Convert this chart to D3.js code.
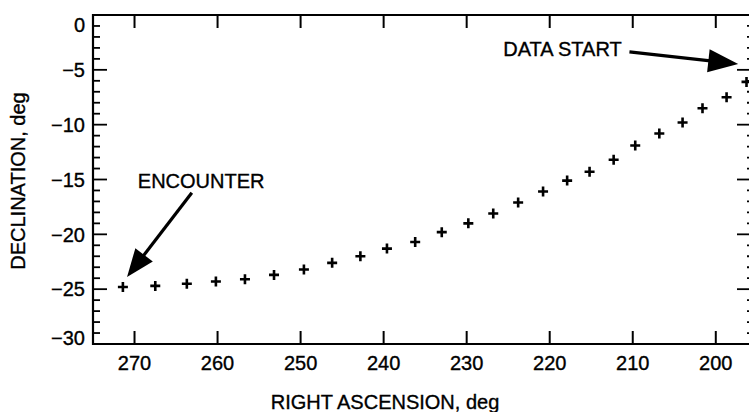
<!DOCTYPE html>
<html>
<head>
<meta charset="utf-8">
<script src="https://cdn.jsdelivr.net/npm/d3@7/dist/d3.min.js"></script>
<style>
  body { margin: 0; background: #fff; }
  svg { display: block; }
  text { font-family: "Liberation Sans", Arial, sans-serif; fill: #000; stroke: #000; stroke-width: 0.35px; }
</style>
</head>
<body>
<svg id="chart" width="749" height="412"></svg>
<script>
// right ascension (deg) and declination (deg) of each plotted point
var ra  = [271.4, 267.5, 263.7, 260.2, 256.7, 253.2, 249.6, 246.2, 242.8, 239.6,
           236.2, 233.0, 229.8, 226.8, 223.8, 220.8, 217.9, 215.2, 212.3, 209.7,
           206.8, 204.0, 201.6, 198.7, 196.3];
var dec = [-24.8, -24.7, -24.5, -24.3, -24.1, -23.7, -23.2, -22.6, -22.0, -21.3,
           -20.7, -19.8, -19.0, -18.1, -17.1, -16.1, -15.1, -14.3, -13.2, -11.9,
           -10.8, -9.8, -8.5, -7.5, -6.1];
var xTicks = [270, 260, 250, 240, 230, 220, 210, 200];
var yTicks = [0, -5, -10, -15, -20, -25, -30];

var svg = d3.select("#chart"),
    plotL = 93, plotT = 15, plotB = 344, plotR = 749;

var x = d3.scaleLinear().domain([275, 196]).range([plotL, plotR]);
var y = d3.scaleLinear().domain([-30, 0]).range([plotB, plotT]);

var g = svg.append("g");

// frame
g.append("path")
    .attr("d", "M" + (plotR + 3) + "," + plotT + "H" + plotL + "V" + plotB + "H" + (plotR + 3) + "V" + plotT)
    .attr("fill", "none").attr("stroke", "#000").attr("stroke-width", 2.2);

// x ticks, top and bottom, pointing inward
xTicks.forEach(function (t) {
    g.append("line").attr("x1", x(t)).attr("x2", x(t)).attr("y1", plotB).attr("y2", plotB - 13)
        .attr("stroke", "#000").attr("stroke-width", 2);
    g.append("line").attr("x1", x(t)).attr("x2", x(t)).attr("y1", plotT).attr("y2", plotT + 13)
        .attr("stroke", "#000").attr("stroke-width", 2);
    g.append("text").attr("x", x(t)).attr("y", plotB + 26)
        .attr("text-anchor", "middle").attr("font-size", 20).text(t);
});

// y ticks, minor every degree, both sides
d3.range(-30, 1).forEach(function (v) {
    var major = v % 5 === 0;
    g.append("line").attr("x1", plotL).attr("x2", plotL + (major ? 14 : 7))
        .attr("y1", y(v)).attr("y2", y(v)).attr("stroke", "#000").attr("stroke-width", 1.8);
    g.append("line").attr("x1", plotR + 3).attr("x2", plotR + 3 - (major ? 15 : 5))
        .attr("y1", y(v)).attr("y2", y(v)).attr("stroke", "#000").attr("stroke-width", 1.8);
});
yTicks.forEach(function (t) {
    var dy = t === 0 ? 10 : (t === -30 ? -6 : 0);
    g.append("text").attr("x", plotL - 8).attr("y", y(t) + dy).attr("dy", "0.36em")
        .attr("text-anchor", "end").attr("font-size", 20)
        .text(t < 0 ? "\u2212" + Math.abs(t) : t);
});

// axis titles
g.append("text").attr("x", 385).attr("y", 409).attr("text-anchor", "middle")
    .attr("font-size", 20).text("RIGHT ASCENSION, deg");
g.append("text").attr("transform", "translate(25,181) rotate(-90)")
    .attr("text-anchor", "middle").attr("font-size", 20).text("DECLINATION, deg");

// points as crosses
var pts = ra.map(function (d, i) { return [d, dec[i]]; });
g.selectAll("path.pt").data(pts).enter().append("path")
    .attr("class", "pt")
    .attr("d", function (d) {
        var px = x(d[0]), py = y(d[1]), s = 5;
        return "M" + (px - s) + "," + py + "H" + (px + s) + "M" + px + "," + (py - s) + "V" + (py + s);
    })
    .attr("stroke", "#000").attr("stroke-width", 2.6).attr("fill", "none");

// annotations: label, text anchor, arrow tail and tip in data units
var notes = [
    {label: "ENCOUNTER",  text: [269.6, -15.8], from: [263.1, -16.2], to: [270.9, -23.9], len: 28, half: 11},
    {label: "DATA START", text: [225.6, -3.7],  from: [210.4, -3.37], to: [197.3, -4.47], len: 30, half: 11.5}
];
notes.forEach(function (n) {
    var x0 = x(n.from[0]), y0 = y(n.from[1]), x1 = x(n.to[0]), y1 = y(n.to[1]);
    var dx = x1 - x0, dy = y1 - y0, L = Math.sqrt(dx * dx + dy * dy);
    var ux = dx / L, uy = dy / L;
    var bx = x1 - ux * n.len, by = y1 - uy * n.len;
    g.append("line").attr("x1", x0).attr("y1", y0).attr("x2", bx + ux * 2).attr("y2", by + uy * 2)
        .attr("stroke", "#000").attr("stroke-width", 3.2);
    g.append("path")
        .attr("d", "M" + x1 + "," + y1 + "L" + (bx - uy * n.half) + "," + (by + ux * n.half) +
            "L" + (bx + uy * n.half) + "," + (by - ux * n.half) + "Z")
        .attr("fill", "#000");
    g.append("text").attr("x", x(n.text[0])).attr("y", y(n.text[1]))
        .attr("font-size", 20).text(n.label);
});
</script>
</body>
</html>
